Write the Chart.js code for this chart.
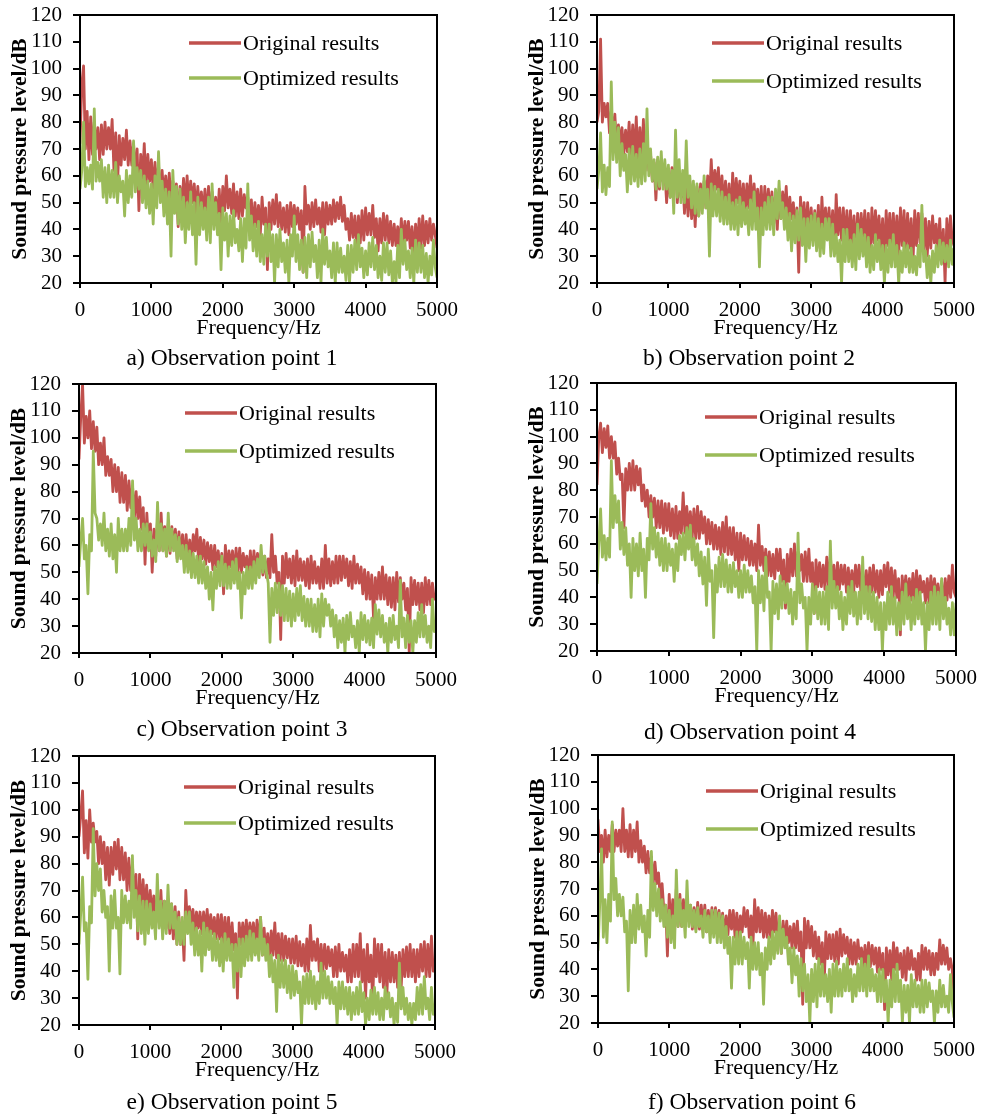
<!DOCTYPE html>
<html>
<head>
<meta charset="utf-8">
<title>Sound pressure level spectra</title>
<script src="https://cdn.jsdelivr.net/npm/chart.js@4.4.0/dist/chart.umd.min.js"></script>
<style>
  body { margin: 0; background: #fff; }
  #page { position: relative; width: 984px; height: 1115px; overflow: hidden; background: #fff; }
  #page canvas { position: absolute; }
  .caption {
    position: absolute;
    font-family: 'Times New Roman', 'Liberation Serif', serif;
    font-size: 23.5px;
    color: #000;
    white-space: nowrap;
    transform: translate(-50%, -50%);
  }
</style>
</head>
<body>
<div id="page"></div>
<script>
// Frequency axis (Hz), one reading every 25 Hz
const freq = [
  0, 25, 50, 75, 100, 125, 150, 175, 200, 225, 250, 275, 300, 325, 350, 375, 400, 425, 450, 475,
  500, 525, 550, 575, 600, 625, 650, 675, 700, 725, 750, 775, 800, 825, 850, 875, 900, 925, 950, 975,
  1000, 1025, 1050, 1075, 1100, 1125, 1150, 1175, 1200, 1225, 1250, 1275, 1300, 1325, 1350, 1375, 1400, 1425, 1450, 1475,
  1500, 1525, 1550, 1575, 1600, 1625, 1650, 1675, 1700, 1725, 1750, 1775, 1800, 1825, 1850, 1875, 1900, 1925, 1950, 1975,
  2000, 2025, 2050, 2075, 2100, 2125, 2150, 2175, 2200, 2225, 2250, 2275, 2300, 2325, 2350, 2375, 2400, 2425, 2450, 2475,
  2500, 2525, 2550, 2575, 2600, 2625, 2650, 2675, 2700, 2725, 2750, 2775, 2800, 2825, 2850, 2875, 2900, 2925, 2950, 2975,
  3000, 3025, 3050, 3075, 3100, 3125, 3150, 3175, 3200, 3225, 3250, 3275, 3300, 3325, 3350, 3375, 3400, 3425, 3450, 3475,
  3500, 3525, 3550, 3575, 3600, 3625, 3650, 3675, 3700, 3725, 3750, 3775, 3800, 3825, 3850, 3875, 3900, 3925, 3950, 3975,
  4000, 4025, 4050, 4075, 4100, 4125, 4150, 4175, 4200, 4225, 4250, 4275, 4300, 4325, 4350, 4375, 4400, 4425, 4450, 4475,
  4500, 4525, 4550, 4575, 4600, 4625, 4650, 4675, 4700, 4725, 4750, 4775, 4800, 4825, 4850, 4875, 4900, 4925, 4950, 4975,
  5000
];

// Observation point 1
const origA = [
  72, 94, 101, 70, 84, 66, 82, 68, 80, 70, 78, 66, 79, 68, 80, 70, 78, 70, 81, 62,
  76, 56, 75, 64, 74, 66, 77, 64, 73, 64, 72, 60, 70, 47, 68, 58, 72, 56, 68, 58,
  66, 54, 65, 55, 64, 52, 62, 52, 60, 50, 61, 50, 58, 47, 57, 41, 56, 47, 59, 48,
  60, 49, 58, 50, 57, 46, 56, 47, 54, 45, 55, 44, 56, 45, 54, 46, 52, 43, 55, 42,
  56, 47, 60, 48, 55, 46, 57, 45, 54, 44, 55, 45, 53, 48, 52, 42, 51, 40, 50, 41,
  49, 38, 52, 42, 48, 25, 50, 40, 51, 42, 53, 41, 50, 40, 48, 39, 49, 38, 50, 41,
  49, 42, 48, 40, 47, 24, 56, 42, 49, 40, 50, 41, 51, 42, 48, 39, 50, 38, 50, 42,
  49, 42, 51, 43, 50, 44, 52, 43, 49, 40, 44, 36, 46, 37, 45, 34, 45, 35, 47, 36,
  48, 38, 46, 38, 49, 37, 44, 32, 44, 35, 46, 36, 45, 35, 43, 34, 42, 34, 41, 32,
  44, 34, 43, 36, 43, 33, 41, 30, 42, 33, 44, 33, 45, 34, 43, 35, 44, 36, 42, 38,
  33
];
const optA = [
  55, 62, 80, 56, 63, 57, 64, 55, 85, 58, 65, 58, 66, 52, 63, 50, 64, 52, 62, 52,
  65, 50, 60, 54, 58, 45, 62, 50, 60, 52, 73, 54, 63, 55, 62, 50, 60, 48, 58, 46,
  57, 42, 60, 48, 69, 50, 58, 45, 55, 42, 54, 30, 62, 46, 56, 42, 55, 40, 52, 35,
  50, 40, 54, 38, 50, 27, 52, 38, 50, 40, 48, 36, 52, 35, 57, 40, 50, 38, 46, 25,
  48, 36, 46, 30, 45, 34, 47, 35, 40, 32, 44, 28, 44, 33, 57, 36, 45, 32, 42, 30,
  43, 28, 38, 27, 42, 30, 42, 28, 38, 20, 38, 26, 40, 28, 35, 24, 36, 20, 38, 30,
  45, 28, 38, 25, 36, 24, 37, 22, 38, 26, 39, 28, 34, 22, 36, 20, 40, 27, 37, 26,
  32, 22, 35, 20, 35, 24, 33, 24, 30, 21, 34, 20, 34, 24, 36, 25, 38, 26, 33, 22,
  32, 23, 35, 26, 37, 25, 34, 22, 30, 21, 35, 24, 35, 23, 32, 20, 28, 20, 34, 22,
  40, 27, 36, 25, 32, 22, 33, 20, 36, 24, 35, 24, 34, 22, 31, 20, 30, 23, 36, 26,
  22
];

// Observation point 2
const origB = [
  80, 84, 111, 80, 87, 82, 87, 76, 84, 76, 83, 70, 79, 72, 78, 68, 77, 69, 80, 66,
  79, 66, 82, 64, 78, 65, 81, 62, 74, 62, 68, 58, 65, 51, 66, 55, 64, 58, 62, 50,
  62, 52, 63, 56, 65, 50, 61, 52, 60, 46, 58, 45, 58, 44, 55, 41, 56, 45, 57, 48,
  58, 48, 60, 50, 66, 52, 62, 55, 63, 50, 60, 48, 58, 46, 57, 42, 61, 48, 59, 50,
  58, 47, 57, 46, 57, 48, 60, 47, 57, 48, 55, 44, 56, 42, 56, 45, 55, 45, 54, 42,
  53, 40, 55, 44, 54, 46, 56, 43, 52, 44, 50, 40, 48, 24, 52, 40, 50, 38, 50, 38,
  48, 36, 47, 36, 49, 33, 52, 38, 48, 38, 48, 36, 47, 31, 53, 38, 48, 36, 48, 35,
  47, 34, 47, 34, 45, 30, 46, 35, 46, 35, 47, 33, 46, 30, 48, 35, 47, 36, 45, 32,
  44, 28, 47, 34, 46, 33, 46, 33, 45, 30, 48, 34, 47, 32, 46, 33, 44, 27, 47, 34,
  46, 35, 46, 32, 44, 30, 43, 33, 45, 35, 42, 30, 44, 28, 40, 20, 44, 32, 45, 36,
  34
];
const optB = [
  55, 62, 76, 54, 64, 53, 63, 56, 95, 66, 80, 65, 78, 60, 72, 62, 68, 54, 70, 57,
  71, 58, 68, 56, 70, 57, 72, 58, 85, 60, 70, 58, 66, 55, 67, 56, 69, 55, 66, 55,
  64, 52, 62, 46, 77, 52, 66, 50, 62, 50, 73, 52, 60, 48, 58, 46, 57, 45, 55, 46,
  60, 48, 55, 30, 57, 45, 56, 45, 55, 43, 54, 42, 52, 42, 53, 40, 50, 40, 51, 38,
  52, 41, 50, 42, 48, 38, 51, 40, 54, 40, 48, 26, 48, 38, 50, 40, 52, 40, 52, 38,
  55, 44, 58, 44, 50, 40, 48, 36, 46, 32, 45, 35, 47, 36, 48, 34, 44, 28, 44, 33,
  45, 34, 46, 32, 44, 30, 42, 31, 44, 36, 44, 30, 42, 30, 38, 28, 36, 20, 40, 28,
  40, 28, 36, 26, 38, 25, 42, 29, 40, 30, 38, 26, 37, 24, 34, 25, 38, 28, 36, 25,
  34, 20, 34, 24, 36, 26, 38, 26, 34, 20, 32, 24, 35, 26, 34, 24, 33, 24, 30, 23,
  34, 26, 49, 28, 32, 22, 30, 20, 32, 24, 34, 26, 36, 27, 35, 28, 34, 26, 36, 27,
  33
];

// Observation point 3
const origC = [
  92, 108, 120, 98, 108, 100, 110, 96, 106, 95, 104, 90, 98, 90, 100, 86, 93, 86, 92, 80,
  90, 80, 89, 76, 87, 76, 86, 73, 84, 74, 82, 70, 80, 70, 78, 66, 74, 53, 72, 60,
  68, 50, 66, 56, 70, 58, 72, 58, 67, 56, 68, 57, 67, 60, 66, 55, 65, 56, 64, 54,
  64, 55, 62, 54, 64, 58, 66, 54, 63, 55, 62, 53, 61, 54, 60, 51, 60, 52, 58, 50,
  57, 42, 60, 50, 58, 52, 58, 49, 59, 50, 59, 50, 57, 52, 56, 48, 58, 48, 58, 50,
  57, 52, 57, 49, 56, 48, 55, 48, 64, 50, 56, 46, 50, 25, 56, 46, 57, 48, 55, 46,
  56, 45, 58, 47, 55, 47, 54, 45, 55, 44, 56, 46, 54, 46, 52, 44, 55, 44, 60, 46,
  55, 45, 54, 46, 56, 46, 56, 47, 56, 48, 55, 45, 54, 44, 56, 46, 53, 46, 52, 42,
  51, 40, 50, 40, 49, 33, 48, 40, 50, 40, 52, 40, 49, 38, 48, 37, 48, 36, 50, 39,
  48, 40, 46, 36, 44, 20, 48, 38, 47, 38, 46, 36, 46, 35, 48, 38, 47, 38, 46, 40,
  42
];
const optC = [
  52, 62, 70, 55, 60, 42, 64, 58, 95, 72, 70, 62, 68, 60, 72, 58, 66, 56, 68, 55,
  64, 50, 70, 58, 66, 58, 66, 58, 70, 60, 84, 62, 70, 58, 66, 58, 68, 60, 68, 58,
  65, 56, 62, 54, 76, 58, 68, 58, 66, 56, 72, 58, 66, 58, 64, 54, 63, 55, 60, 50,
  60, 50, 58, 48, 57, 48, 56, 46, 56, 46, 54, 44, 52, 40, 50, 36, 52, 44, 54, 45,
  56, 45, 53, 44, 52, 44, 54, 46, 55, 44, 50, 33, 50, 42, 52, 44, 52, 44, 54, 46,
  55, 48, 60, 50, 56, 50, 46, 24, 44, 34, 46, 35, 46, 34, 45, 32, 44, 32, 43, 30,
  42, 32, 44, 34, 45, 32, 41, 30, 40, 30, 40, 28, 38, 28, 40, 26, 42, 30, 40, 34,
  38, 30, 36, 26, 34, 22, 32, 24, 33, 20, 34, 25, 35, 26, 30, 22, 32, 20, 35, 25,
  34, 24, 32, 23, 33, 22, 38, 27, 36, 26, 34, 24, 31, 20, 33, 24, 34, 25, 30, 22,
  47, 26, 33, 22, 34, 24, 32, 20, 32, 24, 35, 26, 38, 26, 34, 24, 30, 22, 40, 28,
  30
];

// Observation point 4
const origD = [
  82, 100, 105, 94, 103, 96, 104, 92, 100, 92, 98, 86, 92, 84, 86, 66, 88, 80, 90, 80,
  91, 80, 89, 82, 88, 76, 82, 74, 80, 70, 78, 70, 77, 66, 76, 66, 76, 64, 75, 65,
  75, 63, 73, 62, 74, 62, 72, 64, 79, 64, 74, 65, 72, 62, 73, 62, 74, 62, 72, 64,
  70, 60, 69, 60, 68, 58, 67, 58, 66, 56, 68, 57, 70, 56, 66, 56, 66, 54, 64, 50,
  64, 54, 63, 54, 62, 52, 61, 52, 60, 50, 67, 52, 59, 50, 58, 48, 57, 48, 56, 47,
  58, 50, 58, 46, 54, 36, 56, 46, 58, 48, 60, 48, 57, 50, 56, 46, 57, 46, 58, 46,
  53, 34, 54, 44, 53, 44, 52, 43, 55, 44, 56, 44, 52, 42, 53, 43, 52, 45, 52, 42,
  51, 42, 50, 42, 52, 44, 52, 42, 50, 40, 50, 41, 51, 42, 52, 42, 50, 40, 50, 41,
  52, 44, 53, 42, 51, 40, 50, 40, 47, 26, 48, 40, 48, 40, 47, 39, 49, 38, 50, 40,
  48, 42, 46, 38, 47, 38, 48, 40, 47, 40, 45, 37, 46, 36, 47, 39, 48, 40, 52, 42,
  40
];
const optD = [
  45, 60, 73, 55, 63, 54, 62, 55, 91, 66, 78, 68, 76, 58, 68, 56, 66, 52, 60, 40,
  62, 50, 60, 48, 64, 50, 58, 40, 62, 54, 75, 58, 66, 55, 64, 52, 62, 50, 62, 50,
  60, 52, 58, 46, 60, 50, 63, 56, 64, 54, 66, 58, 67, 54, 62, 52, 60, 48, 57, 45,
  55, 37, 58, 46, 50, 25, 52, 42, 55, 44, 56, 44, 54, 42, 52, 42, 53, 44, 50, 40,
  50, 40, 52, 42, 50, 42, 48, 38, 44, 20, 50, 38, 48, 35, 55, 40, 42, 20, 46, 34,
  45, 32, 48, 36, 46, 38, 45, 34, 43, 30, 42, 32, 64, 38, 45, 36, 40, 20, 40, 30,
  45, 34, 44, 32, 42, 30, 42, 30, 44, 28, 61, 36, 46, 36, 44, 32, 42, 28, 40, 30,
  44, 34, 46, 33, 42, 30, 42, 32, 55, 34, 44, 32, 44, 31, 42, 28, 40, 28, 38, 20,
  38, 28, 42, 30, 44, 30, 40, 26, 38, 28, 42, 30, 45, 32, 40, 28, 40, 30, 43, 32,
  42, 30, 38, 20, 38, 28, 42, 30, 44, 30, 42, 28, 47, 32, 40, 30, 36, 26, 38, 26,
  38
];

// Observation point 5
const origE = [
  90, 98, 107, 84, 96, 82, 100, 88, 95, 88, 92, 80, 90, 80, 88, 74, 86, 72, 86, 76,
  88, 78, 89, 74, 86, 74, 84, 70, 82, 70, 80, 66, 76, 52, 76, 62, 74, 62, 72, 60,
  70, 60, 68, 57, 69, 58, 70, 56, 66, 56, 66, 54, 65, 52, 64, 50, 62, 50, 58, 44,
  70, 56, 64, 58, 63, 55, 62, 56, 62, 54, 62, 55, 63, 54, 61, 54, 60, 52, 61, 52,
  61, 50, 60, 50, 60, 48, 58, 48, 54, 30, 58, 50, 58, 50, 59, 50, 58, 52, 58, 48,
  59, 50, 60, 46, 56, 46, 54, 45, 55, 46, 58, 45, 54, 44, 54, 44, 53, 45, 52, 43,
  52, 43, 53, 42, 51, 42, 50, 40, 52, 40, 57, 44, 51, 44, 52, 40, 50, 40, 50, 41,
  49, 42, 48, 38, 49, 38, 50, 40, 47, 40, 46, 36, 48, 36, 50, 38, 50, 38, 54, 36,
  48, 30, 50, 36, 46, 28, 52, 38, 50, 36, 50, 34, 47, 32, 48, 36, 47, 36, 46, 34,
  47, 34, 48, 38, 49, 38, 50, 38, 48, 36, 48, 38, 50, 40, 51, 38, 50, 38, 53, 40,
  42
];
const optE = [
  50, 62, 75, 55, 58, 37, 64, 58, 93, 68, 80, 70, 78, 62, 70, 60, 64, 40, 68, 56,
  70, 56, 60, 39, 70, 58, 68, 58, 66, 56, 83, 60, 70, 55, 68, 54, 66, 50, 66, 54,
  65, 56, 62, 52, 76, 56, 66, 52, 66, 54, 72, 56, 65, 56, 62, 50, 60, 50, 60, 50,
  62, 54, 62, 50, 58, 46, 56, 46, 55, 40, 58, 46, 56, 48, 55, 44, 54, 44, 52, 42,
  52, 40, 54, 44, 52, 44, 50, 34, 50, 40, 52, 38, 52, 42, 53, 44, 55, 44, 54, 46,
  52, 44, 60, 46, 52, 44, 50, 38, 46, 36, 44, 25, 46, 34, 44, 34, 44, 32, 42, 30,
  42, 31, 40, 32, 36, 20, 38, 28, 39, 28, 40, 28, 38, 26, 36, 28, 43, 30, 40, 30,
  38, 28, 36, 28, 34, 20, 36, 26, 36, 26, 34, 24, 34, 22, 32, 24, 34, 24, 36, 25,
  32, 20, 30, 22, 33, 24, 34, 24, 32, 22, 30, 22, 34, 26, 32, 23, 30, 20, 28, 21,
  43, 26, 34, 24, 30, 22, 28, 20, 28, 22, 34, 24, 35, 24, 38, 26, 30, 22, 34, 24,
  28
];

// Observation point 6
const origF = [
  96, 84, 90, 80, 92, 82, 90, 84, 94, 84, 92, 86, 92, 84, 100, 84, 92, 82, 94, 82,
  92, 84, 95, 80, 88, 80, 86, 76, 84, 76, 82, 72, 80, 72, 76, 66, 72, 62, 64, 45,
  68, 55, 66, 54, 70, 56, 68, 56, 66, 56, 65, 58, 64, 55, 63, 55, 65, 55, 64, 56,
  64, 54, 62, 54, 63, 55, 63, 56, 62, 52, 61, 52, 60, 53, 62, 55, 62, 52, 61, 52,
  60, 54, 63, 56, 62, 52, 60, 48, 66, 54, 63, 54, 62, 52, 61, 52, 60, 52, 62, 54,
  61, 50, 58, 46, 58, 50, 58, 50, 56, 48, 57, 48, 58, 47, 54, 27, 59, 48, 58, 48,
  56, 45, 54, 44, 52, 42, 50, 33, 54, 44, 53, 44, 53, 43, 54, 42, 55, 45, 53, 46,
  52, 42, 51, 42, 50, 42, 51, 44, 48, 40, 49, 40, 50, 41, 49, 42, 48, 39, 48, 40,
  46, 25, 48, 38, 47, 36, 50, 40, 48, 40, 46, 37, 47, 36, 48, 40, 47, 40, 44, 36,
  46, 36, 49, 40, 48, 40, 47, 38, 46, 38, 46, 40, 51, 42, 49, 42, 48, 40, 44, 40,
  30
];
const optF = [
  47, 65, 85, 52, 66, 50, 68, 58, 95, 66, 74, 60, 68, 60, 67, 54, 58, 32, 62, 50,
  64, 50, 68, 55, 64, 54, 60, 45, 62, 52, 84, 62, 72, 60, 70, 58, 66, 56, 64, 52,
  62, 50, 60, 48, 77, 56, 66, 56, 62, 52, 73, 56, 64, 56, 62, 54, 63, 56, 60, 52,
  62, 54, 60, 50, 62, 52, 62, 50, 61, 50, 60, 48, 56, 46, 52, 33, 52, 42, 54, 42,
  54, 42, 52, 44, 50, 33, 52, 40, 50, 40, 50, 38, 46, 27, 48, 40, 52, 42, 54, 44,
  54, 46, 60, 46, 55, 48, 52, 42, 48, 35, 48, 38, 45, 30, 44, 32, 42, 28, 38, 20,
  40, 28, 42, 26, 44, 30, 42, 30, 38, 28, 40, 24, 42, 30, 43, 30, 40, 30, 42, 32,
  44, 32, 40, 28, 38, 30, 42, 32, 44, 32, 42, 30, 45, 32, 40, 32, 38, 28, 40, 28,
  40, 28, 36, 20, 36, 26, 40, 28, 42, 28, 36, 20, 34, 24, 34, 20, 38, 26, 36, 26,
  34, 24, 36, 24, 36, 26, 35, 28, 32, 20, 32, 24, 36, 26, 34, 26, 30, 24, 38, 28,
  22
];

const seriesNames = ['Original results', 'Optimized results'];
const lineColors = ['#C0504D', '#9BBB59'];
const serif = "'Times New Roman', 'Liberation Serif', serif";

// plot box position (page px), legend offsets inside the plot box, caption centre
const panels = [
  { orig: origA, opt: optA, left: 80,  top: 15,  w: 357, h: 268, lx: 109, ly: [28, 63], cap: 'a) Observation point 1', cx: 232, cy: 357 },
  { orig: origB, opt: optB, left: 597, top: 15,  w: 357, h: 268, lx: 115, ly: [28, 66], cap: 'b) Observation point 2', cx: 749, cy: 357 },
  { orig: origC, opt: optC, left: 79,  top: 384, w: 357, h: 269, lx: 106, ly: [29, 67], cap: 'c) Observation point 3', cx: 242, cy: 728 },
  { orig: origD, opt: optD, left: 597, top: 383, w: 359, h: 268, lx: 108, ly: [34, 72], cap: 'd) Observation point 4', cx: 750, cy: 731 },
  { orig: origE, opt: optE, left: 79,  top: 756, w: 356, h: 269, lx: 105, ly: [31, 67], cap: 'e) Observation point 5', cx: 232, cy: 1101 },
  { orig: origF, opt: optF, left: 598, top: 755, w: 356, h: 268, lx: 108, ly: [36, 74], cap: 'f) Observation point 6', cx: 752, cy: 1101 }
];

const Y_AXIS_W = 80;   // space left of the plot box
const X_AXIS_H = 62;   // space below the plot box
const PAD_TOP = 15;
const PAD_RIGHT = 26;

// black box round the plot area
const framePlugin = {
  id: 'frame',
  afterDatasetsDraw(chart) {
    const { ctx, chartArea: a } = chart;
    ctx.save();
    ctx.strokeStyle = '#000';
    ctx.lineWidth = 2;
    ctx.strokeRect(a.left, a.top, a.right - a.left, a.bottom - a.top);
    ctx.restore();
  }
};

// legend drawn inside the plot, like the Excel one
const insideLegend = {
  id: 'insideLegend',
  afterDraw(chart, args, opts) {
    const { ctx, chartArea } = chart;
    ctx.save();
    ctx.font = '22px ' + serif;
    ctx.textBaseline = 'middle';
    chart.data.datasets.forEach((ds, i) => {
      const x = chartArea.left + opts.x;
      const y = chartArea.top + opts.rows[i];
      ctx.strokeStyle = ds.borderColor;
      ctx.lineWidth = 3.5;
      ctx.beginPath();
      ctx.moveTo(x, y);
      ctx.lineTo(x + 52, y);
      ctx.stroke();
      ctx.fillStyle = '#000';
      ctx.fillText(ds.label, x + 54, y + 1);
    });
    ctx.restore();
  }
};

const page = document.getElementById('page');

function toPoints(values) {
  if (values.length !== freq.length) console.error('length mismatch', values.length);
  return freq.map((f, i) => ({ x: f, y: values[i] }));
}

panels.forEach(p => {
  const canvas = document.createElement('canvas');
  canvas.width = Y_AXIS_W + p.w + PAD_RIGHT;
  canvas.height = PAD_TOP + p.h + X_AXIS_H;
  canvas.style.left = (p.left - Y_AXIS_W) + 'px';
  canvas.style.top = (p.top - PAD_TOP) + 'px';
  page.appendChild(canvas);

  const cap = document.createElement('div');
  cap.className = 'caption';
  cap.textContent = p.cap;
  cap.style.left = p.cx + 'px';
  cap.style.top = p.cy + 'px';
  page.appendChild(cap);

  const tickFont = { family: serif, size: 21 };

  new Chart(canvas.getContext('2d'), {
    type: 'line',
    data: {
      datasets: [
        { label: seriesNames[0], data: toPoints(p.orig), borderColor: lineColors[0], borderWidth: 2.8, order: 2 },
        { label: seriesNames[1], data: toPoints(p.opt), borderColor: lineColors[1], borderWidth: 2.8, order: 1 }
      ]
    },
    options: {
      responsive: false,
      animation: false,
      events: [],
      elements: { point: { radius: 0 }, line: { tension: 0, borderJoinStyle: 'round' } },
      layout: { padding: { left: 0, top: PAD_TOP, right: PAD_RIGHT, bottom: 0 } },
      plugins: {
        legend: { display: false },
        tooltip: { enabled: false },
        insideLegend: { x: p.lx, rows: p.ly }
      },
      scales: {
        x: {
          type: 'linear',
          min: 0,
          max: 5000,
          // fixed box sizes so the plot lands where the reference has it
          afterFit(scale) { scale.height = X_AXIS_H; scale.paddingLeft = 0; scale.paddingRight = 0; },
          ticks: { stepSize: 1000, color: '#000', font: tickFont, padding: 10, maxRotation: 0, autoSkip: false,
                   callback: v => String(v) },
          grid: { drawOnChartArea: false, drawTicks: true, tickLength: 5, color: '#000', lineWidth: 2 },
          border: { color: '#000', width: 2 },
          title: { display: true, text: 'Frequency/Hz', color: '#000', font: { family: serif, size: 22 }, padding: { top: 0, bottom: 4 } }
        },
        y: {
          min: 20,
          max: 120,
          afterFit(scale) { scale.width = Y_AXIS_W; scale.paddingTop = 0; scale.paddingBottom = 0; },
          ticks: { stepSize: 10, color: '#000', font: tickFont, padding: 11, autoSkip: false },
          grid: { drawOnChartArea: false, drawTicks: true, tickLength: 7, color: '#000', lineWidth: 2 },
          border: { color: '#000', width: 2 },
          title: { display: true, text: 'Sound pressure level/dB', color: '#000', font: { family: serif, size: 21.5, weight: 'bold' }, padding: { top: 8, bottom: 0 } }
        }
      }
    },
    plugins: [framePlugin, insideLegend]
  });
});
</script>
</body>
</html>
